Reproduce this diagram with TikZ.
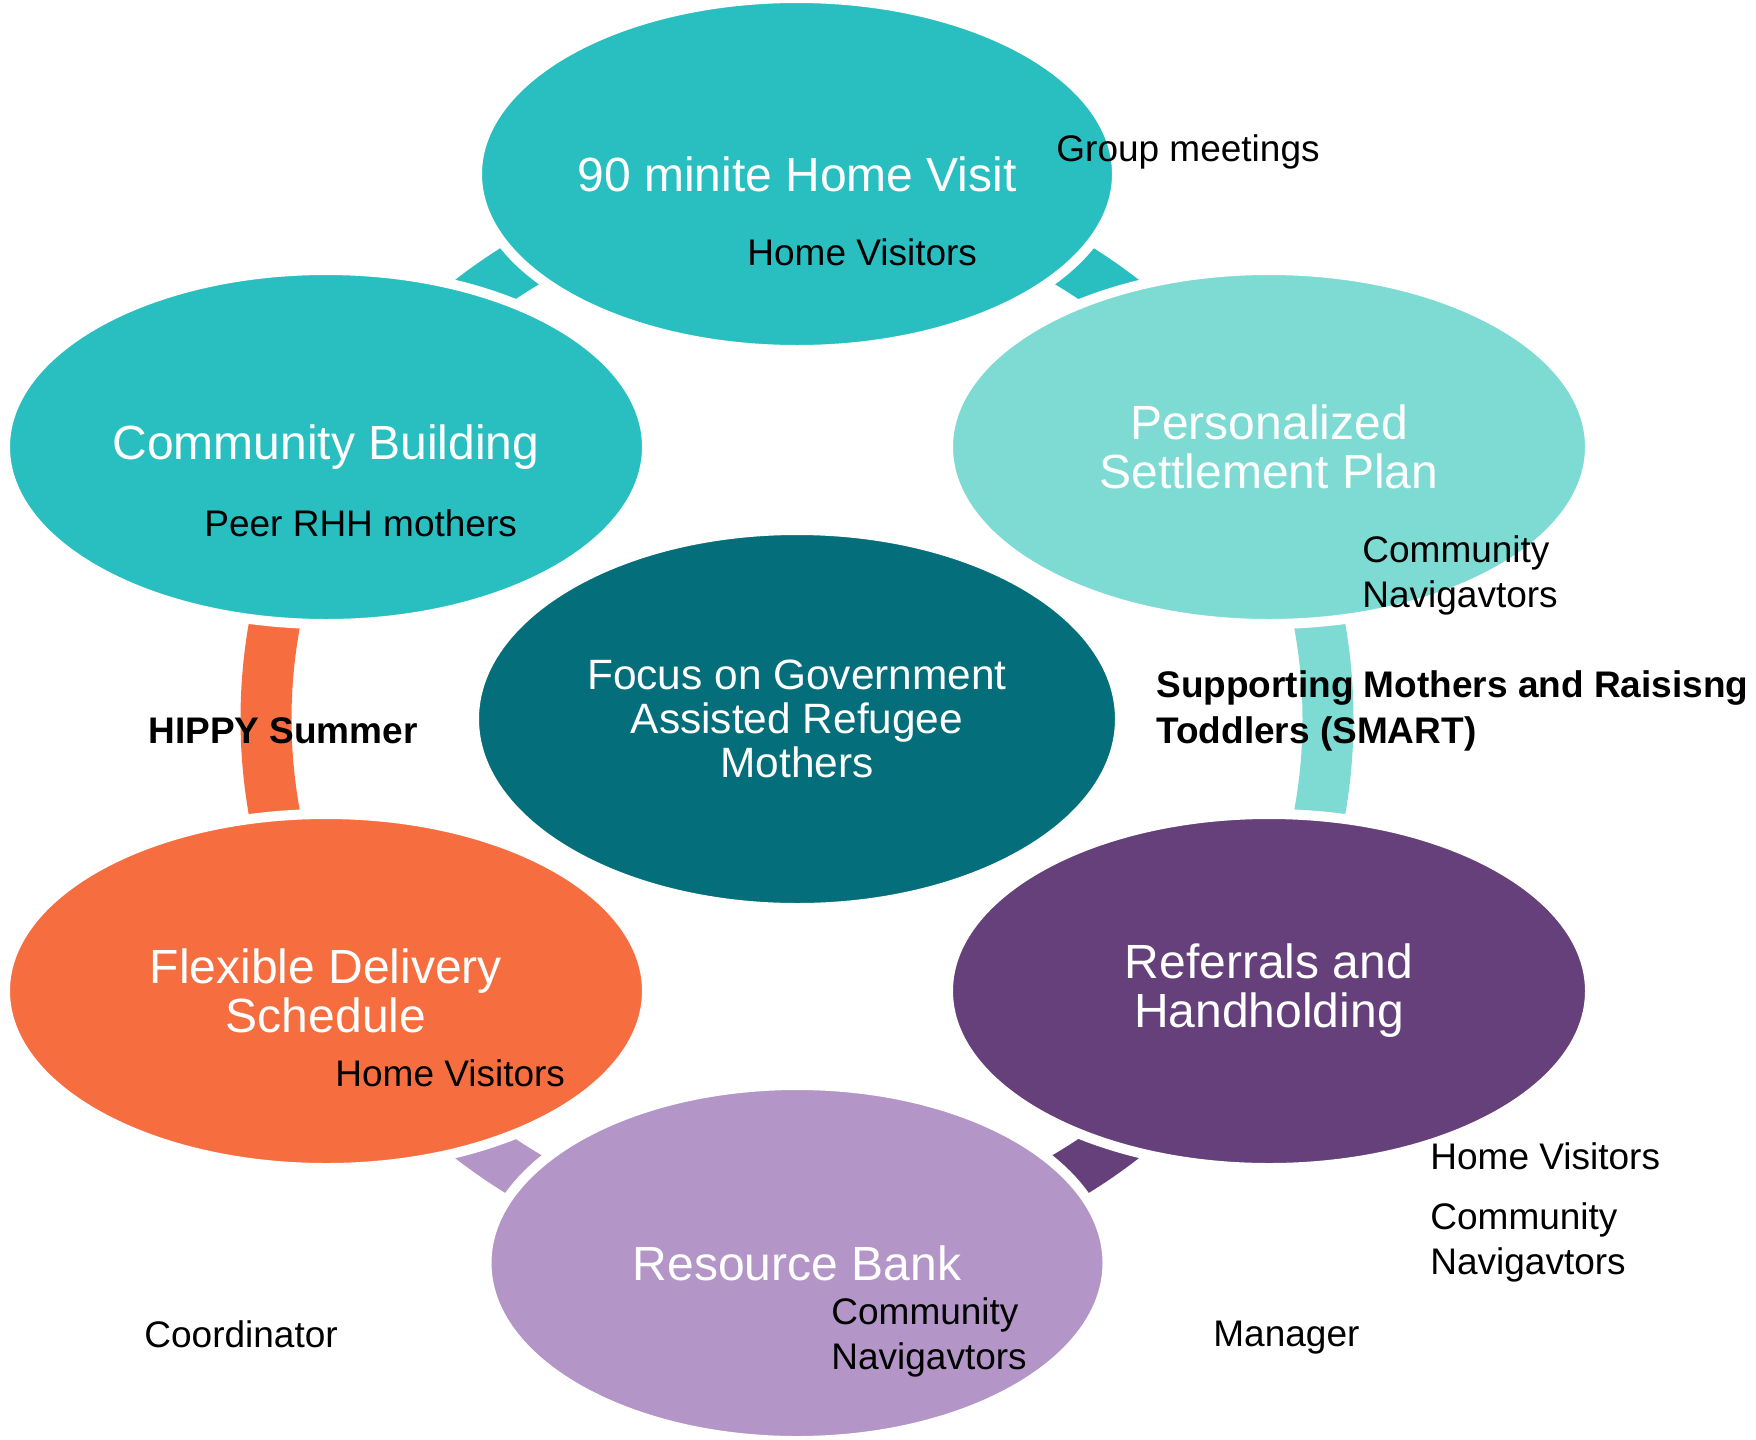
\documentclass[tikz,border=0pt]{standalone}
\usepackage{fontspec}
\setmainfont{Liberation Sans}
\usetikzlibrary{shapes.geometric,calc}

\definecolor{hvteal}{RGB}{41,191,193}
\definecolor{planteal}{RGB}{125,219,211}
\definecolor{focusteal}{RGB}{4,111,122}
\definecolor{referpurple}{RGB}{101,64,123}
\definecolor{banklilac}{RGB}{179,150,199}
\definecolor{flexorange}{RGB}{246,110,64}

\tikzset{
  bubble/.style={ellipse, draw=white, line width=5pt, inner sep=0pt, text=white, align=center, font=\fontsize{24}{24.5}\selectfont},
  ring/.style={line width=25.5pt},
  tag/.style={anchor=west, inner sep=0pt, align=left, text=black, font=\fontsize{18.5}{22.5}\selectfont},
}

\begin{document}
\begin{tikzpicture}[x=0.5pt,y=0.5pt,yscale=-1,xscale=1]
\useasboundingbox (0,0) rectangle (1756,1440);
\coordinate (hub) at (797,719);

%Shape: Arc
\draw [ring, color=hvteal] ($(hub)+(-90:531)$) arc [start angle=-90, end angle=-30, radius=531];
%Shape: Arc
\draw [ring, color=planteal] ($(hub)+(-30:531)$) arc [start angle=-30, end angle=30, radius=531];
%Shape: Arc
\draw [ring, color=referpurple] ($(hub)+(30:531)$) arc [start angle=30, end angle=90, radius=531];
%Shape: Arc
\draw [ring, color=banklilac] ($(hub)+(90:531)$) arc [start angle=90, end angle=150, radius=531];
%Shape: Arc
\draw [ring, color=flexorange] ($(hub)+(150:531)$) arc [start angle=150, end angle=210, radius=531];
%Shape: Arc
\draw [ring, color=hvteal] ($(hub)+(210:531)$) arc [start angle=210, end angle=270, radius=531];

%Shape: Ellipse
\draw (797,174) node (visit) [bubble, fill=hvteal, minimum width=320pt, minimum height=176pt] {90 minite Home Visit};
%Shape: Ellipse
\draw (1269,447) node (plan) [bubble, fill=planteal, minimum width=321pt, minimum height=177pt] {Personalized\\Settlement Plan};
%Shape: Ellipse
\draw (1269,991) node (referral) [bubble, fill=referpurple, minimum width=321pt, minimum height=177pt] {Referrals and\\Handholding};
%Shape: Ellipse
\draw (797,1263) node (bank) [bubble, fill=banklilac, minimum width=310.5pt, minimum height=178pt] {Resource Bank};
%Shape: Ellipse
\draw (326,991) node (flexible) [bubble, fill=flexorange, minimum width=321pt, minimum height=177pt] {Flexible Delivery\\Schedule};
%Shape: Ellipse
\draw (326,447) node (community) [bubble, fill=hvteal, minimum width=321pt, minimum height=177pt] {Community Building};
%Shape: Ellipse
\draw (797,719) node (focus) [bubble, fill=focusteal, minimum width=323pt, minimum height=189pt, font=\fontsize{21.2}{22}\selectfont] {Focus on Government\\Assisted Refugee\\Mothers};

% Text Node
\draw (1056,152) node (groupmeet) [tag] {Group meetings};
% Text Node
\draw (747,252) node (visitwho) [tag] {Home Visitors};
% Text Node
\draw (204,523) node (peerwho) [tag] {Peer RHH mothers};
% Text Node
\draw (1362,575) node (planwho) [tag] {Community\\Navigavtors};
% Text Node
\draw (148,731) node (hippy) [tag, font=\fontsize{18.5}{22.5}\selectfont\bfseries] {HIPPY Summer};
% Text Node
\draw (1156,711) node (smart) [tag, font=\fontsize{18.5}{23}\selectfont\bfseries] {Supporting Mothers and Raisisng\\Toddlers (SMART)};
% Text Node
\draw (335,1073) node (flexwho) [tag] {Home Visitors};
% Text Node
\draw (1430,1156) node (referwho) [tag] {Home Visitors};
% Text Node
\draw (1430,1242) node (refernav) [tag] {Community\\Navigavtors};
% Text Node
\draw (831,1337) node (bankwho) [tag] {Community\\Navigavtors};
% Text Node
\draw (144,1334) node (coordinator) [tag] {Coordinator};
% Text Node
\draw (1213,1338) node (manager) [tag] {Manager};

\end{tikzpicture}
\end{document}
